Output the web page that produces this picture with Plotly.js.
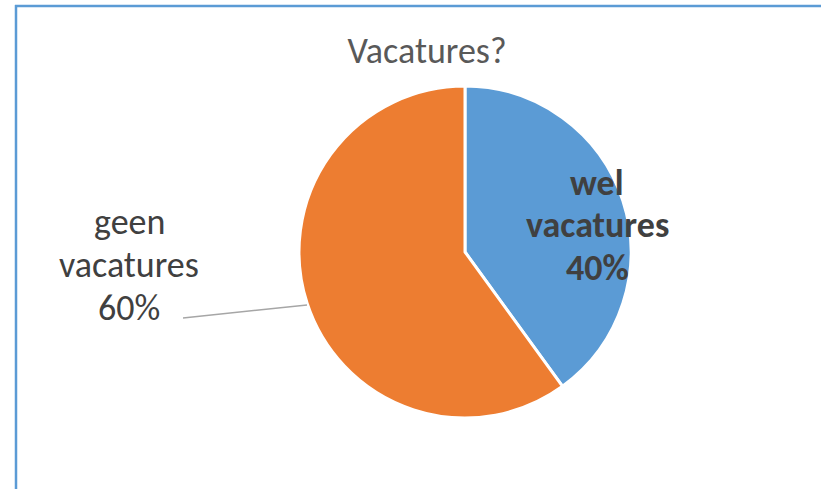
<!DOCTYPE html>
<html>
<head>
<meta charset="utf-8">
<script src="https://cdn.plot.ly/plotly-3.0.1.min.js"></script>
<style>
html,body{margin:0;padding:0;background:#fff;}
#chart{width:821px;height:489px;}
</style>
</head>
<body>
<div id="chart"></div>
<script>
const chartTitle = "Vacatures?";
const categories = ["wel vacatures", "geen vacatures"];
const values = [40, 60];
const colors = ["#5b9bd5", "#ed7d31"];

const W = 821, H = 489;
const px = x => x / W;
const py = y => 1 - y / H;

const total = values.reduce((a, b) => a + b, 0);
const pct = values.map(v => Math.round(v / total * 100) + "%");
const labelLines = categories.map((c, i) => c.split(" ").concat([pct[i]]));

const trace = {
  type: "pie",
  labels: categories,
  values: values,
  sort: false,
  direction: "clockwise",
  rotation: 0,
  marker: {colors: colors, line: {color: "#ffffff", width: 3}},
  textinfo: "none",
  hoverinfo: "skip",
  showlegend: false,
  domain: {x: [px(299), px(631)], y: [py(418), py(86)]}
};

const font = "Calibri, Carlito, Lato, 'Open Sans', sans-serif";

// label placement (layout only)
const labelPos = [
  {x: 597, ys: [183, 225, 268], bold: true},
  {x: 129, ys: [222, 265, 308], bold: false}
];
const annotations = [];
labelLines.forEach((lines, i) => {
  lines.forEach((t, j) => {
    annotations.push({
      text: labelPos[i].bold ? "<b>" + t + "</b>" : t,
      x: px(labelPos[i].x), y: py(labelPos[i].ys[j]),
      xref: "paper", yref: "paper",
      xanchor: "center", yanchor: "middle", showarrow: false,
      font: {family: font, size: 36, color: "#404040"}
    });
  });
});

const layout = {
  width: W, height: H,
  margin: {l: 0, r: 0, t: 0, b: 0},
  paper_bgcolor: "#ffffff",
  showlegend: false,
  title: {
    text: chartTitle,
    font: {family: font, size: 36, color: "#595959"},
    x: px(427), xanchor: "center",
    y: py(50), yanchor: "middle"
  },
  annotations: annotations,
  shapes: [
    {type: "line", xref: "paper", yref: "paper",
     x0: px(183), y0: py(318), x1: px(307), y1: py(305),
     line: {color: "#a6a6a6", width: 1.5}},
    {type: "line", xref: "paper", yref: "paper",
     x0: px(15), y0: py(6), x1: px(821), y1: py(6),
     line: {color: "#5b9bd5", width: 2.5}},
    {type: "line", xref: "paper", yref: "paper",
     x0: px(16), y0: py(5), x1: px(16), y1: py(489),
     line: {color: "#5b9bd5", width: 2.5}}
  ]
};

Plotly.newPlot("chart", [trace], layout, {displayModeBar: false, staticPlot: true});
</script>
</body>
</html>
